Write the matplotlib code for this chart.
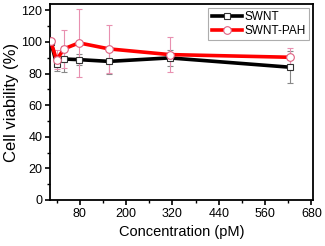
import numpy as np
import matplotlib
matplotlib.use('Agg')
from matplotlib import pyplot as plt
from matplotlib.ticker import MultipleLocator

conc = [5, 20, 39, 78, 156, 312.5, 625]
swnt = [100.0, 86.3, 89.2, 88.8, 87.7, 89.9, 84.0]
swnt_err = [1.0, 5.0, 8.0, 3.5, 8.0, 5.0, 10.0]
pah = [100.4, 88.6, 95.6, 99.4, 95.6, 92.0, 90.3]
pah_err = [1.0, 6.0, 12.0, 21.6, 15.0, 11.0, 6.0]

plt.rcParams['font.family'] = ['Liberation Sans', 'DejaVu Sans']

fig = plt.figure(figsize=(3.25, 2.46), dpi=100)
ax = fig.add_axes([50 / 325, 46 / 246, 263 / 325, 196 / 246])

ax.errorbar(conc, swnt, yerr=swnt_err, fmt='none', ecolor='#888888', elinewidth=0.8,
            capsize=2, capthick=0.8, zorder=2)
ax.errorbar(conc, pah, yerr=pah_err, fmt='none', ecolor='#e890b0', elinewidth=0.8,
            capsize=2, capthick=0.8, zorder=2)
l1, = ax.plot(conc, swnt, color='black', lw=2.6, marker='s', ms=5,
              mfc='white', mec='#333333', mew=0.8, label='SWNT', zorder=3)
l2, = ax.plot(conc, pah, color='#ff0000', lw=2.6, marker='o', ms=5.5,
              mfc='white', mec='#e06080', mew=0.8, label='SWNT-PAH', zorder=4)

ax.set_xlim(3, 684)
ax.set_ylim(0, 124)
ax.set_xticks([80, 200, 320, 440, 560, 680])
ax.set_xticks([20, 140, 260, 380, 500, 620], minor=True)
ax.yaxis.set_major_locator(MultipleLocator(20))
ax.yaxis.set_minor_locator(MultipleLocator(10))
ax.tick_params(which='major', direction='out', length=3.5, width=1.2, labelsize=9, pad=2)
ax.tick_params(which='minor', direction='out', length=2, width=1.0)
for s in ax.spines.values():
    s.set_linewidth(1.3)

ax.set_xlabel('Concentration (pM)', fontsize=10.5, labelpad=4)
ax.set_ylabel('Cell viability (%)', fontsize=12, labelpad=2)

leg = ax.legend(handles=[l1, l2], loc='upper right', fontsize=8.5, frameon=True,
                fancybox=False, edgecolor='#999999', handlelength=2.6,
                borderaxespad=0.3, borderpad=0.3, labelspacing=0.15,
                handletextpad=0.2)
leg.get_frame().set_linewidth(0.8)

fig.savefig('out.png', dpi=100)
